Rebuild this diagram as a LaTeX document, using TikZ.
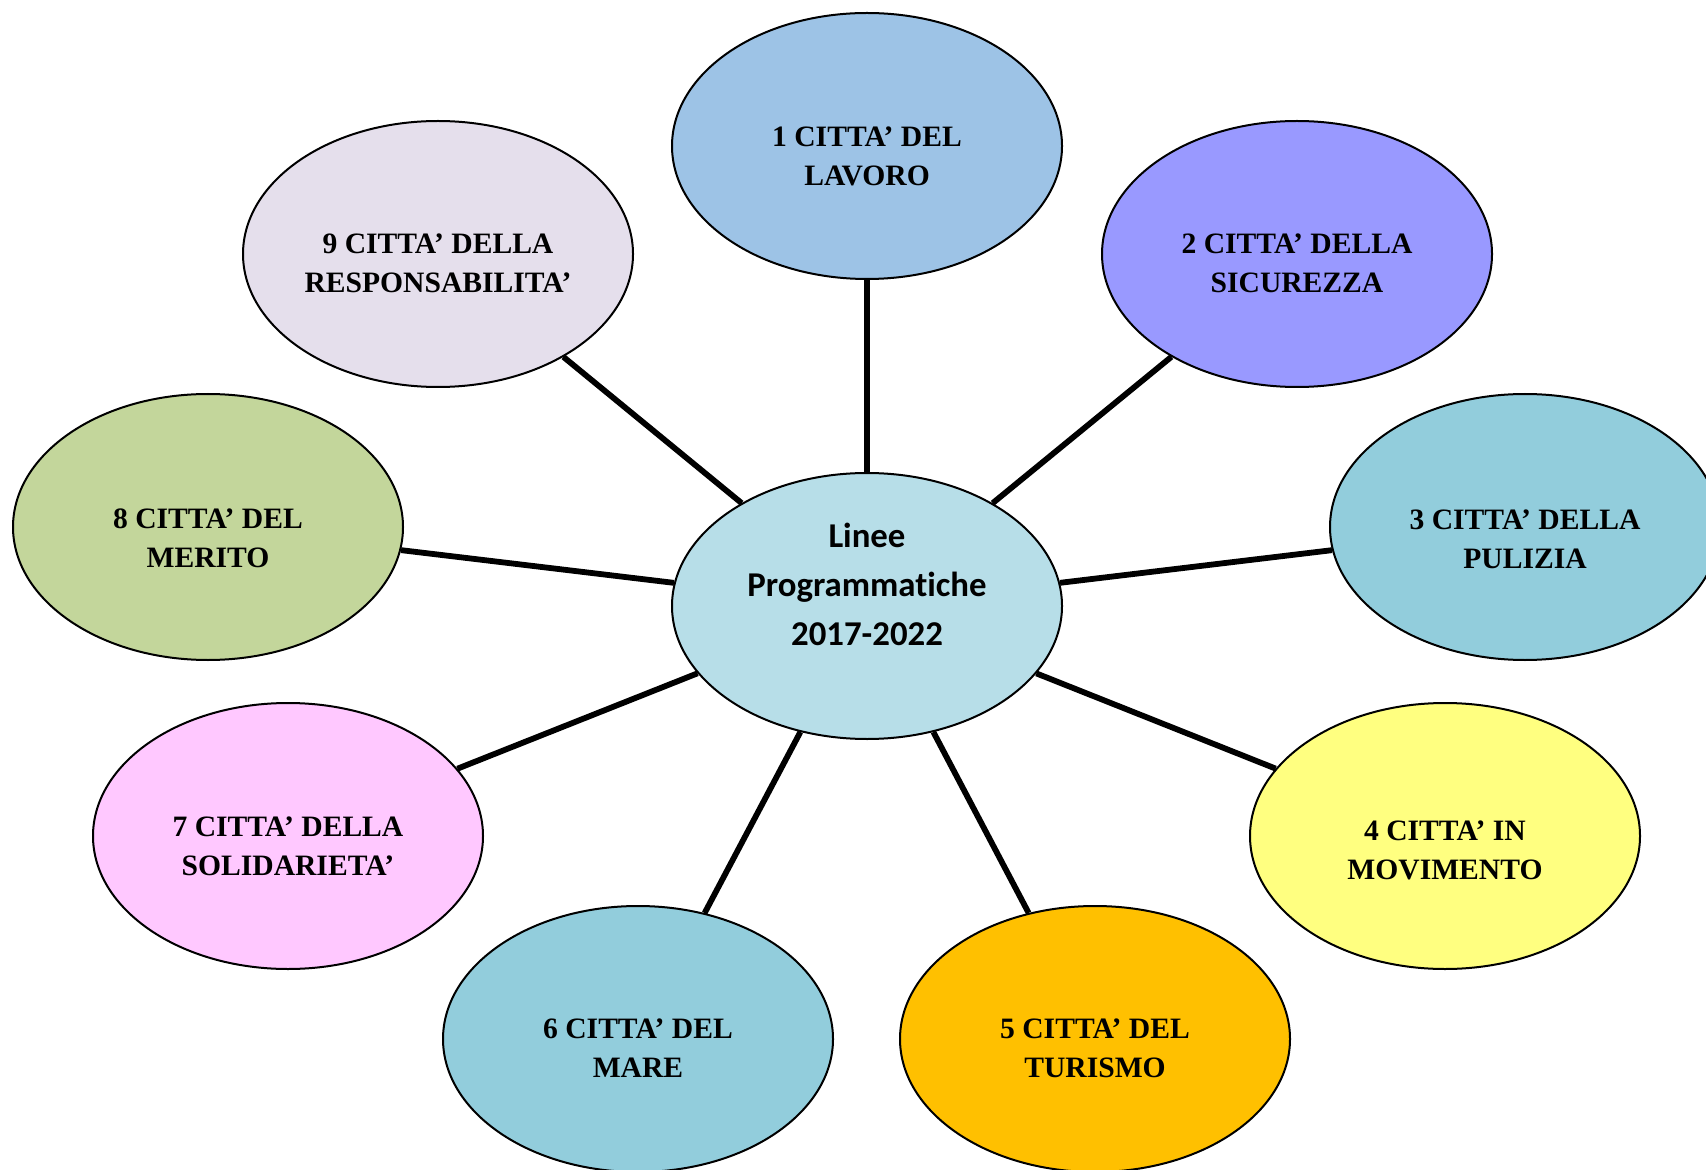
\documentclass[tikz,border=0pt]{standalone}
\usepackage{fontspec}
\setmainfont{Liberation Serif}
\newfontfamily\calib[Ligatures=NoCommon]{Carlito}
\usetikzlibrary{shapes.geometric}
\definecolor{cCenter}{HTML}{B7DEE8}
\definecolor{cOne}{HTML}{9DC3E6}
\definecolor{cTwo}{HTML}{9999FF}
\definecolor{cThree}{HTML}{92CDDC}
\definecolor{cFour}{HTML}{FFFF80}
\definecolor{cFive}{HTML}{FFC000}
\definecolor{cSix}{HTML}{92CDDC}
\definecolor{cSeven}{HTML}{FFC8FF}
\definecolor{cEight}{HTML}{C3D69B}
\definecolor{cNine}{HTML}{E5DFEC}
\tikzset{
  bubble/.style={ellipse, draw=black, line width=1pt, inner sep=0pt,
    minimum width=195pt, minimum height=133pt},
  satlabel/.style={inner sep=0pt, align=center,
    font=\fontsize{14.8pt}{19.5pt}\selectfont\bfseries},
  mainlabel/.style={inner sep=0pt, align=center,
    font=\fontsize{17.4pt}{24.5pt}\calib\bfseries},
  spoke/.style={line width=2.9pt, black}
}
\begin{document}
\begin{tikzpicture}[x=0.5pt, y=-0.5pt]
\useasboundingbox (0,0) rectangle (1706,1170);
\fill[white] (0,0) rectangle (1706,1170);
\begin{scope}
\clip (0,0) rectangle (1706,1170);
\node[bubble, fill=cCenter] (c) at (867,606) {};
\node[bubble, fill=cOne]   (n1) at (867,146) {};
\node[bubble, fill=cTwo]   (n2) at (1297,254) {};
\node[bubble, fill=cThree] (n3) at (1525,527) {};
\node[bubble, fill=cFour]  (n4) at (1445,836) {};
\node[bubble, fill=cFive]  (n5) at (1095,1039) {};
\node[bubble, fill=cSix]   (n6) at (638,1039) {};
\node[bubble, fill=cSeven] (n7) at (288,836) {};
\node[bubble, fill=cEight] (n8) at (208,527) {};
\node[bubble, fill=cNine]  (n9) at (438,254) {};

\foreach \n in {n1,n2,n3,n4,n5,n6,n7,n8,n9}
  \draw[spoke] (c) -- (\n);

\node[mainlabel] (tc) at (867,584) {Linee\\Programmatiche\\2017-2022};
\node[satlabel] (t1) at (867,156) {1 CITTA’ DEL\\LAVORO};
\node[satlabel] (t2) at (1297,263) {2 CITTA’ DELLA\\SICUREZZA};
\node[satlabel] (t3) at (1525,539) {3 CITTA’ DELLA\\PULIZIA};
\node[satlabel] (t4) at (1445,850) {4 CITTA’ IN\\MOVIMENTO};
\node[satlabel] (t5) at (1095,1048) {5 CITTA’ DEL\\TURISMO};
\node[satlabel] (t6) at (638,1048) {6 CITTA’ DEL\\MARE};
\node[satlabel] (t7) at (288,846) {7 CITTA’ DELLA\\SOLIDARIETA’};
\node[satlabel] (t8) at (208,538) {8 CITTA’ DEL\\MERITO};
\node[satlabel] (t9) at (438,263) {9 CITTA’ DELLA\\RESPONSABILITA’};
\end{scope}
\end{tikzpicture}
\end{document}
